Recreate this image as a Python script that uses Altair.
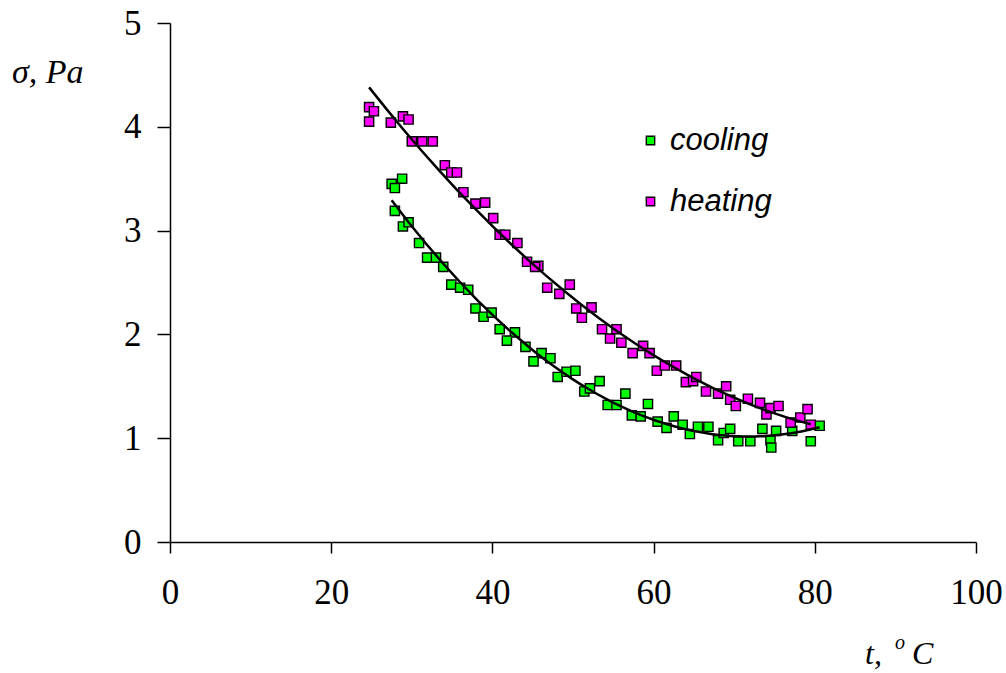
import altair as alt
import pandas as pd

# heating (magenta) points
heating_t = [24.7, 25.3, 24.7, 27.4, 28.9, 29.6, 30.0, 31.3, 32.6, 34.1, 34.9, 35.6, 36.4, 37.9, 39.1,
             40.1, 40.9, 41.6, 43.1, 44.3, 45.7, 45.3, 46.8, 48.3, 49.6, 50.4, 51.1, 52.3, 53.6, 54.6,
             55.4, 56.0, 57.4, 58.7, 59.5, 60.4, 61.4, 62.8, 64.0, 64.9, 65.3, 66.5, 68.0, 69.0, 69.5,
             70.2, 71.7, 73.2, 74.0, 74.5, 75.5, 77.0, 78.2, 79.1, 79.5]
heating_sigma = [4.19, 4.15, 4.05, 4.04, 4.10, 4.07, 3.86, 3.86, 3.86, 3.63, 3.56, 3.56, 3.37, 3.26, 3.27,
                 3.12, 2.96, 2.96, 2.88, 2.70, 2.66, 2.65, 2.45, 2.39, 2.48, 2.25, 2.16, 2.26, 2.05, 1.96,
                 2.05, 1.92, 1.82, 1.89, 1.82, 1.65, 1.70, 1.70, 1.54, 1.55, 1.59, 1.45, 1.43, 1.50, 1.37,
                 1.31, 1.38, 1.34, 1.23, 1.29, 1.31, 1.15, 1.20, 1.28, 1.13]

# cooling (green) points
cooling_t = [27.5, 28.8, 27.9, 27.9, 28.9, 29.6, 30.9, 31.9, 33.0, 33.9, 34.9, 36.0, 37.0, 37.9, 38.9,
             39.9, 40.9, 42.8, 41.8, 44.1, 46.1, 47.2, 45.1, 48.1, 49.2, 50.3, 51.4, 52.1, 53.3, 54.3,
             55.4, 56.5, 57.3, 58.4, 59.3, 60.5, 61.6, 62.5, 63.6, 64.5, 65.5, 66.8, 68.0, 68.7, 69.5,
             70.5, 72.0, 73.5, 74.5, 74.6, 75.2, 77.2, 79.5, 80.6]
cooling_sigma = [3.45, 3.50, 3.41, 3.19, 3.04, 3.08, 2.88, 2.74, 2.74, 2.65, 2.48, 2.45, 2.43, 2.25, 2.17,
                 2.21, 2.05, 2.02, 1.94, 1.88, 1.82, 1.77, 1.74, 1.59, 1.64, 1.65, 1.45, 1.48, 1.55, 1.32,
                 1.32, 1.43, 1.22, 1.21, 1.33, 1.16, 1.10, 1.21, 1.13, 1.04, 1.11, 1.11, 0.98, 1.05, 1.09,
                 0.97, 0.97, 1.09, 0.98, 0.91, 1.07, 1.07, 0.97, 1.12]

series_names = ["cooling", "heating"]
series_colors = ["#00ff00", "#ff00ff"]
x_ticks = [0, 20, 40, 60, 80, 100]
y_ticks = [0, 1, 2, 3, 4, 5]

df = pd.concat([
    pd.DataFrame({"t": cooling_t, "sigma": cooling_sigma, "series": "cooling"}),
    pd.DataFrame({"t": heating_t, "sigma": heating_sigma, "series": "heating"}),
], ignore_index=True)

W, H = 806, 519

x_enc = alt.X("t:Q", scale=alt.Scale(domain=[0, 100], nice=False),
              axis=alt.Axis(values=x_ticks, format="d", title=None, grid=False, tickSize=11,
                            labelPadding=22, labelFont="Liberation Serif", labelFontSize=35,
                            labelFlush=False, labelOverlap=False,
                            labelColor="black", domainColor="black", tickColor="black",
                            domainWidth=1.5, tickWidth=1.5))
y_enc = alt.Y("sigma:Q", scale=alt.Scale(domain=[0, 5], nice=False),
              axis=alt.Axis(values=y_ticks, format="d", title=None, grid=False, tickSize=13,
                            labelPadding=16, labelFont="Liberation Serif", labelFontSize=35,
                            labelFlush=False, labelOverlap=False,
                            labelColor="black", domainColor="black", tickColor="black",
                            domainWidth=1.5, tickWidth=1.5))

base = alt.Chart(df)

points = base.mark_point(shape="square", filled=True, size=85, stroke="black",
                         strokeWidth=1.4, opacity=1).encode(
    x=x_enc, y=y_enc,
    color=alt.Color("series:N", scale=alt.Scale(domain=series_names, range=series_colors),
                    legend=alt.Legend(title=None, orient="none", legendX=465, legendY=102,
                                      symbolType="square", symbolSize=70, symbolStrokeColor="black",
                                      symbolStrokeWidth=1.4, labelFont="Liberation Sans",
                                      labelFontStyle="italic", labelFontSize=31, labelColor="black",
                                      labelOffset=4, rowPadding=29, symbolOpacity=1)),
)

lines = base.transform_regression("t", "sigma", groupby=["series"], method="poly", order=2).mark_line(
    color="black", strokeWidth=2.5).encode(
    x="t:Q", y="sigma:Q", detail="series:N")

def label(txt, x, y, size, style="italic", font="Liberation Serif"):
    return alt.Chart(pd.DataFrame({"txt": [txt]})).mark_text(
        font=font, fontSize=size, fontStyle=style, align="left", baseline="alphabetic",
        color="black").encode(text="txt:N", x=alt.value(x), y=alt.value(y))

y_title = label("\u03c3,   Pa", -158, 60, 34)
x_t = label("t,", 695, 641, 32)
x_o = label("o", 725, 626, 20)
x_c = label("C", 742, 641, 32)

chart = alt.layer(points, lines, y_title, x_t, x_o, x_c).properties(
    width=W, height=H, autosize=alt.AutoSizeParams(type="none"),
    padding={"left": 170, "top": 23, "right": 30, "bottom": 131},
).configure(background="white").configure_view(strokeWidth=0)

chart.save("out.html", embed_options={"renderer": "svg", "actions": False})
